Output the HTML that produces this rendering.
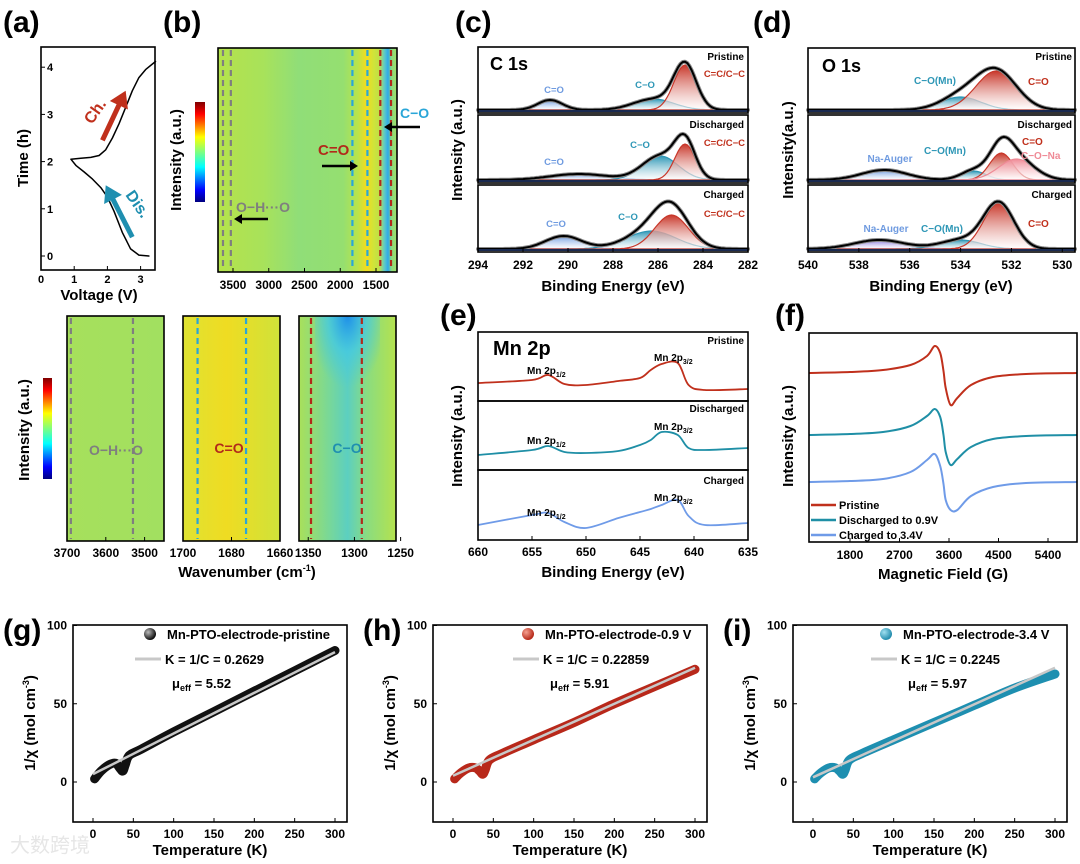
<!DOCTYPE html>
<html><head><meta charset="utf-8"><style>
html,body{margin:0;padding:0;background:#fff}
svg{display:block;font-family:"Liberation Sans","Noto Sans CJK SC",sans-serif;font-weight:bold}
</style></head><body>
<svg id="fig" width="1080" height="864" viewBox="0 0 1080 864" xmlns="http://www.w3.org/2000/svg">
<defs>
<linearGradient id="jet" x1="0" y1="1" x2="0" y2="0">
<stop offset="0" stop-color="#00007f"/><stop offset="0.12" stop-color="#0000ff"/><stop offset="0.35" stop-color="#00ffff"/><stop offset="0.5" stop-color="#7fff7f"/><stop offset="0.65" stop-color="#ffff00"/><stop offset="0.88" stop-color="#ff0000"/><stop offset="1" stop-color="#7f0000"/></linearGradient>
<linearGradient id="hmTop" x1="0" y1="0" x2="1" y2="0">
<stop offset="0" stop-color="#b5e34c"/><stop offset="0.25" stop-color="#a8e25a"/><stop offset="0.45" stop-color="#90de78"/><stop offset="0.7" stop-color="#95df70"/><stop offset="0.78" stop-color="#b9e44a"/><stop offset="0.83" stop-color="#f3dc1e"/><stop offset="0.87" stop-color="#cfe43a"/><stop offset="0.9" stop-color="#c0e046"/><stop offset="0.93" stop-color="#5cc9c8"/><stop offset="0.95" stop-color="#2fa9e8"/><stop offset="0.97" stop-color="#8cdc7c"/><stop offset="1" stop-color="#9fe068"/></linearGradient>
<linearGradient id="hm1" x1="0" y1="0" x2="1" y2="0"><stop offset="0" stop-color="#a6e05c"/><stop offset="1" stop-color="#a2e060"/></linearGradient>
<linearGradient id="hm2" x1="0" y1="0" x2="1" y2="0"><stop offset="0" stop-color="#dfe232"/><stop offset="0.45" stop-color="#efdc22"/><stop offset="1" stop-color="#cfe23a"/></linearGradient>
<linearGradient id="hm3" x1="0" y1="0" x2="1" y2="0"><stop offset="0" stop-color="#a9e05a"/><stop offset="0.3" stop-color="#7ad896"/><stop offset="0.5" stop-color="#5ccfc0"/><stop offset="0.7" stop-color="#8adc80"/><stop offset="1" stop-color="#b5e24e"/></linearGradient>
<radialGradient id="cyanTop" cx="0.5" cy="0" r="0.6"><stop offset="0" stop-color="#1e8ee8"/><stop offset="0.5" stop-color="#40c8e8" stop-opacity="0.7"/><stop offset="1" stop-color="#40c8e8" stop-opacity="0"/></radialGradient>
<radialGradient id="ballK" cx="0.35" cy="0.35" r="0.7"><stop offset="0" stop-color="#bbb"/><stop offset="1" stop-color="#000"/></radialGradient>
<radialGradient id="ballR" cx="0.35" cy="0.35" r="0.7"><stop offset="0" stop-color="#f5a090"/><stop offset="1" stop-color="#b22010"/></radialGradient>
<radialGradient id="ballB" cx="0.35" cy="0.35" r="0.7"><stop offset="0" stop-color="#a0e0f0"/><stop offset="1" stop-color="#1a86a8"/></radialGradient>
</defs>
</svg>
<script>
// ===== data arrays =====
const aVolt=[3.25,2.95,2.7,2.45,2.2,2.0,1.8,1.55,1.3,1.05,0.9,1.2,1.5,1.75,1.95,2.15,2.35,2.55,2.75,2.95,3.15,3.45];
const aTime=[0,0.02,0.15,0.5,0.95,1.25,1.45,1.63,1.78,1.92,2.05,2.07,2.09,2.13,2.25,2.5,2.8,3.15,3.5,3.78,3.95,4.12];
const aXTicks=[0,1,2,3];const aYTicks=[0,1,2,3,4];
const bTicks=[3500,3000,2500,2000,1500];
const bDashes=[[3640,'#7f7f7f'],[3530,'#7f7f7f'],[1830,'#2aa6d8'],[1620,'#2aa6d8'],[1440,'#b22a1a'],[1290,'#b22a1a']];
const cCenters=[[290.8,286.2,284.8],[289.5,285.9,284.8],[290.2,286.3,285.4]];
const cHeights=[[10,11,45],[6,24,36],[13,18,34]];
const cWidths=[[0.55,0.9,0.5],[1.3,0.8,0.45],[0.8,1.1,0.75]];
const cTicks=[294,292,290,288,286,284,282];
const dCenters=[[534.0,532.6],[537.0,533.5,532.4,531.8],[537.2,534.0,532.5]];
const dHeights=[[13,39],[10,9,27,21],[9,9,46]];
const dWidths=[[0.8,0.8],[0.9,0.5,0.45,0.7],[1.0,0.8,0.6]];
const dTicks=[540,538,536,534,532,530];
const eBE=[660,655,653.5,652,650,647,645,644,643,641.5,640.5,639,635];
const ePristine=[9,12,17,8,7,11,14,22,28,29,7,2,3];
const eDischarged=[7,12,16,10,9,11,17,22,30,27,14,12,14];
const eCharged=[7,17,19,10,4,14,20,23,27,32,16,7,9];
const eTicks=[660,655,650,645,640,635];
const fField=[1055,1800,2400,2900,3200,3340,3440,3500,3540,3630,3750,4000,4400,5000,5927];
const fPristine=[0,1,3,8,17,27,20,2,-15,-32,-25,-12,-4,-1,0];
const fDischarged=[0,1,3,9,19,26,18,0,-17,-30,-24,-12,-4,-1,0];
const fCharged=[0,1,3,10,22,28,16,-2,-18,-28,-28,-14,-5,-1,0];
const fTicks=[1800,2700,3600,4500,5400];
const magT=[2,10,20,28,33,37,40,45,60,100,150,200,250,300];
const gInv=[2,7,11,12,9,7,11,17,21,32,45,58,71,84];
const hInv=[2,6,9,9,7,5,8,14,18,27,38,50,61,72];
const iInv=[2,6,9,9,7,5,8,14,18,27,38,49,60,69];
const fitT=[0,300];
const gFit=[5,83];const hFit=[4,73];const iFit=[3,73];
const magXTicks=[0,50,100,150,200,250,300];const magYTicks=[0,50,100];

// ===== helpers =====
const svg=document.getElementById('fig');
const NS='http://www.w3.org/2000/svg';
function mk(tag,attrs,name,parent){
  const el=document.createElementNS(NS,tag);
  for(const k in attrs)el.setAttribute(k,attrs[k]);
  
  
  (parent||svg).appendChild(el);return el;
}
function txt(x,y,s,size,name,opts){
  opts=opts||{};
  const el=mk('text',{x:x,y:y,'font-size':size,fill:opts.fill||'#000','text-anchor':opts.anchor||'start'},name);
  if(opts.rot)el.setAttribute('transform','rotate(-90 '+x+' '+y+')');
  if(opts.weight)el.setAttribute('font-weight',opts.weight);
  el.innerHTML=s;return el;
}
function box(x1,y1,x2,y2,name){mk('rect',{x:x1,y:y1,width:x2-x1,height:y2-y1,fill:'none',stroke:'#000','stroke-width':1.6},name);}
function line(x1,y1,x2,y2,c,w,name,dash){const l=mk('line',{x1:x1,y1:y1,x2:x2,y2:y2,stroke:c,'stroke-width':w},name);if(dash)l.setAttribute('stroke-dasharray',dash);return l;}
function poly(pts,c,w,name){return mk('polyline',{points:pts.map(p=>p[0].toFixed(1)+','+p[1].toFixed(1)).join(' '),fill:'none',stroke:c,'stroke-width':w,'stroke-linejoin':'round','stroke-linecap':'round'},name);}
function smooth(pts){
  let d='M'+pts[0][0]+','+pts[0][1];
  for(let i=0;i<pts.length-1;i++){const p0=pts[i-1]||pts[i],p1=pts[i],p2=pts[i+1],p3=pts[i+2]||p2;
    d+=' C'+(p1[0]+(p2[0]-p0[0])/6).toFixed(1)+','+(p1[1]+(p2[1]-p0[1])/6).toFixed(1)+' '+(p2[0]-(p3[0]-p1[0])/6).toFixed(1)+','+(p2[1]-(p3[1]-p1[1])/6).toFixed(1)+' '+p2[0].toFixed(1)+','+p2[1].toFixed(1);}
  return d;}
function panelLabel(x,y,s){txt(x,y,s,30,'panel-label-'+s.replace(/[()]/g,''));}
function arrow(x1,y1,x2,y2,c,w,name){
  line(x1,y1,x2-(x2-x1)*0.12,y2-(y2-y1)*0.12,c,w,name);
  const a=Math.atan2(y2-y1,x2-x1),L=w*3.2,W=w*2;
  const p=[[x2,y2],[x2-L*Math.cos(a)+W*Math.sin(a),y2-L*Math.sin(a)-W*Math.cos(a)],[x2-L*Math.cos(a)-W*Math.sin(a),y2-L*Math.sin(a)+W*Math.cos(a)]];
  mk('polygon',{points:p.map(q=>q.join(',')).join(' '),fill:c},name+'-head');
}

// ===== (a) =====
panelLabel(3,32,'(a)');
const ax=v=>41+v*33.2, ay=t=>256-t*47.2;
box(41,47,155,270,'plot-a-frame');
aXTicks.forEach(v=>{line(ax(v),270,ax(v),266,'#000',1,'a-x-tick');txt(ax(v),283,v,11,'a-x-tick-label',{anchor:'middle'});});
aYTicks.forEach(v=>{line(41,ay(v),45,ay(v),'#000',1,'a-y-tick');txt(47,ay(v)+4,v,11,'a-y-tick-label');});
poly(aVolt.map((v,i)=>[ax(v),ay(aTime[i])]),'#000',1.5,'a-voltage-curve');
txt(99,300,'Voltage (V)',15,'a-x-axis-title',{anchor:'middle'});
txt(28,158,'Time (h)',15,'a-y-axis-title',{anchor:'middle',rot:1});
arrow(ax(1.85),ay(2.45),ax(2.55),ay(3.5),'#c0301c',5,'charge-arrow');
txt(92,125,'Ch.',16,'charge-label',{fill:'#c0301c'}).setAttribute('transform','rotate(-55 92 125)');
arrow(ax(2.75),ay(0.4),ax(1.95),ay(1.5),'#1f8fb0',5,'discharge-arrow');
txt(125,195,'Dis.',16,'discharge-label',{fill:'#1f8fb0'}).setAttribute('transform','rotate(55 125 195)');

// ===== (b) top =====
panelLabel(163,32,'(b)');
const bx=w=>233+(3500-w)*143/2000;
mk('rect',{x:218,y:48,width:179,height:224,fill:'url(#hmTop)'},'b-heatmap');
box(218,48,397,272,'plot-b-frame');
bDashes.forEach(d=>line(bx(d[0]),50,bx(d[0]),270,d[1],2.2,'b-dashed-marker','6 4'));
bTicks.forEach(v=>{line(bx(v),272,bx(v),268,'#000',1,'b-x-tick');txt(bx(v),289,v,12,'b-x-tick-label',{anchor:'middle'});});
mk('rect',{x:195,y:102,width:10,height:100,fill:'url(#jet)'},'b-colorbar');
txt(181,160,'Intensity (a.u.)',15,'b-y-axis-title',{anchor:'middle',rot:1});
txt(400,118,'C−O',14,'b-co-label',{fill:'#2aa6d8'});
arrow(420,127,384,127,'#000',2.5,'b-co-arrow');
txt(318,155,'C=O',15,'b-c=o-label',{fill:'#b22a1a'});
arrow(322,166,358,166,'#000',2.5,'b-c=o-arrow');
txt(236,212,'O−H···O',14,'b-ohbond-label',{fill:'#7f7f7f'});
arrow(268,219,234,219,'#000',2.5,'b-oh-arrow');

// ===== (b) bottom =====
const subs=[[67,164,3700,3450,'url(#hm1)',[3690,3530],'#7f7f7f','O−H···O',[3700,3600,3500]],
            [183,280,1700,1660,'url(#hm2)',[1694,1674],'#2aa6d8','C=O',[1700,1680,1660]],
            [299,396,1360,1255,'url(#hm3)',[1347,1292],'#b22a1a','C−O',[1350,1300,1250]]];
subs.forEach((s,k)=>{
  const sx=w=>s[0]+(s[2]-w)*(s[1]-s[0])/(s[2]-s[3]);
  mk('rect',{x:s[0],y:316,width:s[1]-s[0],height:225,fill:s[4]},'b-zoom-heatmap-'+k);
  if(k===2)mk('rect',{x:315,y:316,width:65,height:120,fill:'url(#cyanTop)'},'b-zoom-cyan-region');
  box(s[0],316,s[1],541,'b-zoom-frame-'+k);
  s[5].forEach(w=>line(sx(w),318,sx(w),539,s[6],2.2,'b-zoom-dash','6 4'));
  s[8].forEach(v=>{line(sx(v),541,sx(v),537,'#000',1,'b-zoom-tick');txt(sx(v),557,v,12,'b-zoom-tick-label',{anchor:'middle'});});
});
txt(116,455,'O−H···O',14,'b-zoom-oh-label',{anchor:'middle',fill:'#7f7f7f'});
txt(229,453,'C=O',14,'b-zoom-co2-label',{anchor:'middle',fill:'#b22a1a'});
txt(347,453,'C−O',14,'b-zoom-co-label',{anchor:'middle',fill:'#1f8fb0'});
txt(247,577,'Wavenumber (cm<tspan font-size="9" dy="-6">-1</tspan><tspan dy="6">)</tspan>',15,'b-x-axis-title',{anchor:'middle'});
mk('rect',{x:43,y:378,width:9,height:101,fill:'url(#jet)'},'b-zoom-colorbar');
txt(29,430,'Intensity (a.u.)',15,'b-zoom-y-axis-title',{anchor:'middle',rot:1});

// ===== XPS =====
function xps(x0,x1,e0,e1,tops,centers,heights,widths,colors,ticks,prefix){
  const X=e=>x0+(e0-e)*(x1-x0)/(e0-e1);
  const N=120;
  centers.forEach((cs,p)=>{
    const base=tops[p][1]-3;
    const g=(e,i)=>heights[p][i]*Math.exp(-0.5*Math.pow((e-cs[i])/widths[p][i],2));
    cs.forEach((c,i)=>{
      const gid=prefix+'g'+p+'_'+i;
      const lg=mk('linearGradient',{id:gid,x1:0,y1:0,x2:0,y2:1},'gradient',svg.querySelector('defs'));
      lg.innerHTML='<stop offset="0" stop-color="'+colors[p][i]+'"/><stop offset="1" stop-color="#fff" stop-opacity="0.6"/>';
      const pts=[];for(let k=0;k<=N;k++){const e=e0+(e1-e0)*k/N;pts.push([X(e),base-g(e,i)]);}
      mk('path',{d:'M'+X(e0)+','+base+' L'+pts.map(q=>q[0].toFixed(1)+','+q[1].toFixed(1)).join(' L')+' L'+X(e1)+','+base+'Z',fill:'url(#'+gid+')',stroke:colors[p][i],'stroke-width':1.2},prefix+'-component-'+p+'-'+i);
    });
    const env=[];for(let k=0;k<=N;k++){const e=e0+(e1-e0)*k/N;let s=0;cs.forEach((c,i)=>s+=g(e,i));env.push([X(e),base-s]);}
    poly(env,'#8a8a8a',4,prefix+'-raw-'+p);
    poly(env,'#000',2,prefix+'-envelope-'+p);
    line(x0,base+1,x1,base+1,'#1a2a50',2,prefix+'-baseline-'+p);
    box(x0,tops[p][0],x1,tops[p][1],prefix+'-subframe-'+p);
  });
  ticks.forEach(v=>{line(X(v),tops[tops.length-1][1],X(v),tops[tops.length-1][1]-4,'#000',1,prefix+'-x-tick');txt(X(v),tops[tops.length-1][1]+17,v,12,prefix+'-x-tick-label',{anchor:'middle'});});
  return X;
}
panelLabel(455,32,'(c)');
xps(478,748,294,282,[[47,113],[115,183],[185,252]],cCenters,cHeights,cWidths,
  [['#6f9be0','#2e97b6','#c8372a'],['#6f9be0','#2e97b6','#c8372a'],['#6f9be0','#2e97b6','#c8372a']],cTicks,'c');
txt(613,291,'Binding Energy (eV)',15,'c-x-axis-title',{anchor:'middle'});
txt(462,150,'Intensity (a.u.)',15,'c-y-axis-title',{anchor:'middle',rot:1});
txt(490,70,'C 1s',18,'c-title');
[['Pristine',60],['Discharged',128],['Charged',198]].forEach(t=>txt(744,t[1],t[0],10,'c-state-label',{anchor:'end'}));
[[745,77],[745,146],[745,217]].forEach(p=>txt(p[0],p[1],'C=C/C−C',9.5,'c-cc-label',{anchor:'end',fill:'#c0301c'}));
[[554,93],[554,165],[556,227]].forEach(p=>txt(p[0],p[1],'C=O',9.5,'c-co-dbl-label',{anchor:'middle',fill:'#6f9be0'}));
[[645,88],[640,148],[628,220]].forEach(p=>txt(p[0],p[1],'C−O',9.5,'c-co-label',{anchor:'middle',fill:'#2e97b6'}));
panelLabel(753,32,'(d)');
xps(808,1075,540,529.5,[[48,113],[115,183],[185,252]],dCenters,dHeights,dWidths,
  [['#2e97b6','#c8372a'],['#6f9be0','#2e97b6','#c8372a','#ef8a96'],['#8a78e0','#2e97b6','#c8372a']],dTicks,'d');
txt(941,291,'Binding Energy (eV)',15,'d-x-axis-title',{anchor:'middle'});
txt(793,150,'Intensity(a.u.)',15,'d-y-axis-title',{anchor:'middle',rot:1});
txt(822,72,'O 1s',18,'d-title');
[['Pristine',60],['Discharged',128],['Charged',198]].forEach(t=>txt(1072,t[1],t[0],10,'d-state-label',{anchor:'end'}));
[[1028,85],[1022,145],[1028,227]].forEach(p=>txt(p[0],p[1],'C=O',10,'d-c=o-label',{fill:'#c0301c'}));
txt(1021,159,'C−O−Na',10,'d-cona-label',{fill:'#ef8a96'});
[[935,84],[945,154],[942,232]].forEach(p=>txt(p[0],p[1],'C−O(Mn)',10,'d-comn-label',{anchor:'middle',fill:'#2e97b6'}));
[[890,162],[886,232]].forEach(p=>txt(p[0],p[1],'Na-Auger',10,'d-auger-label',{anchor:'middle',fill:'#6f9be0'}));

// ===== (e) =====
panelLabel(440,325,'(e)');
const eX=e=>478+(660-e)*270/25;
const eBase=[392,462,532], eCol=['#c0301c','#1f8fa6','#6f9be8'], eSets=[ePristine,eDischarged,eCharged];
eSets.forEach((s,p)=>{mk('path',{d:smooth(eBE.map((e,i)=>[eX(e),eBase[p]-s[i]])),fill:'none',stroke:eCol[p],'stroke-width':1.8},'e-trace-'+p);});
[[332,401],[401,470],[470,540]].forEach((r,p)=>box(478,r[0],748,r[1],'e-subframe-'+p));
eTicks.forEach(v=>{line(eX(v),540,eX(v),536,'#000',1,'e-x-tick');txt(eX(v),556,v,12,'e-x-tick-label',{anchor:'middle'});});
txt(613,577,'Binding Energy (eV)',15,'e-x-axis-title',{anchor:'middle'});
txt(462,436,'Intensity (a.u.)',15,'e-y-axis-title',{anchor:'middle',rot:1});
txt(493,355,'Mn 2p',20,'e-title');
[['Pristine',344],['Discharged',412],['Charged',484]].forEach(t=>txt(744,t[1],t[0],10,'e-state-label',{anchor:'end'}));
[374,444,516].forEach(y=>txt(527,y,'Mn 2p<tspan font-size="7" dy="3">1/2</tspan>',10,'e-mn2p12-label'));
[361,430,501].forEach(y=>txt(654,y,'Mn 2p<tspan font-size="7" dy="3">3/2</tspan>',10,'e-mn2p32-label'));

// ===== (f) =====
panelLabel(775,325,'(f)');
const fX=h=>850+(h-1800)*198/3600;
const fBase=[373,435,482],fSets=[fPristine,fDischarged,fCharged],fCol=['#c0301c','#1f8fa6','#6f9be8'];
fSets.forEach((s,p)=>{mk('path',{d:smooth(fField.map((h,i)=>[fX(h),fBase[p]-s[i]])),fill:'none',stroke:fCol[p],'stroke-width':2},'f-trace-'+p);});
box(809,333,1077,542,'plot-f-frame');
fTicks.forEach(v=>{line(fX(v),542,fX(v),538,'#000',1,'f-x-tick');txt(fX(v),559,v,12,'f-x-tick-label',{anchor:'middle'});});
txt(943,579,'Magnetic Field (G)',15,'f-x-axis-title',{anchor:'middle'});
txt(793,436,'Intensity (a.u.)',15,'f-y-axis-title',{anchor:'middle',rot:1});
[['Pristine',505],['Discharged to 0.9V',520],['Charged to 3.4V',535]].forEach((t,i)=>{line(811,t[1],836,t[1],fCol[i],2.5,'f-legend-line');txt(839,t[1]+4,t[0],11,'f-legend-entry');});

// ===== (g,h,i) =====
function magPanel(off,label,data,fit,col,grad,leg,K,mu,legX){
  panelLabel(3+off,640,label);
  const X=t=>93+off+t*242/300, Y=v=>782-v*1.565;
  box(73+off,625,347+off,822,'mag-frame-'+label);
  magXTicks.forEach(v=>{line(X(v),822,X(v),818,'#000',1,'mag-x-tick');txt(X(v),838,v,12,'mag-x-tick-label',{anchor:'middle'});});
  magYTicks.forEach(v=>{line(73+off,Y(v),77+off,Y(v),'#000',1,'mag-y-tick');txt(67+off,Y(v)+4,v,12,'mag-y-tick-label',{anchor:'end'});});
  const pts=magT.map((t,i)=>[X(t),Y(data[i])]);
  mk('path',{d:smooth(pts),fill:'none',stroke:col,'stroke-width':9,'stroke-linecap':'round'},'mag-data-'+label);
  line(X(fitT[0]),Y(fit[0]),X(fitT[1]),Y(fit[1]),'#c8c8c8',2.5,'mag-fit-line-'+label);
  txt(210+off,855,'Temperature (K)',15,'mag-x-axis-title',{anchor:'middle'});
  txt(35+off,723,'1/χ (mol cm<tspan font-size="9" dy="-6">-3</tspan><tspan dy="6">)</tspan>',15,'mag-y-axis-title',{anchor:'middle',rot:1});
  mk('circle',{cx:legX-17,cy:634,r:6,fill:'url(#'+grad+')'},'mag-legend-marker');
  txt(legX,639,leg,13,'mag-legend-entry');
  line(legX-32,659,legX-6,659,'#c8c8c8',3,'mag-legend-fit');
  txt(legX-2,664,'K = 1/C = '+K,13,'mag-fit-label');
  txt(legX+5,688,'μ<tspan font-size="9" dy="3">eff</tspan><tspan dy="-3"> = '+mu+'</tspan>',13,'mag-mu-label');
}
magPanel(0,'(g)',gInv,gFit,'#111','ballK','Mn-PTO-electrode-pristine','0.2629','5.52',167);
magPanel(360,'(h)',hInv,hFit,'#b8281a','ballR','Mn-PTO-electrode-0.9 V','0.22859','5.91',545);
magPanel(720,'(i)',iInv,iFit,'#1e8fb0','ballB','Mn-PTO-electrode-3.4 V','0.2245','5.97',903);
txt(10,852,'大数跨境',20,'watermark',{fill:'#e6e6e6',weight:'normal'});
</script>
</body></html>
